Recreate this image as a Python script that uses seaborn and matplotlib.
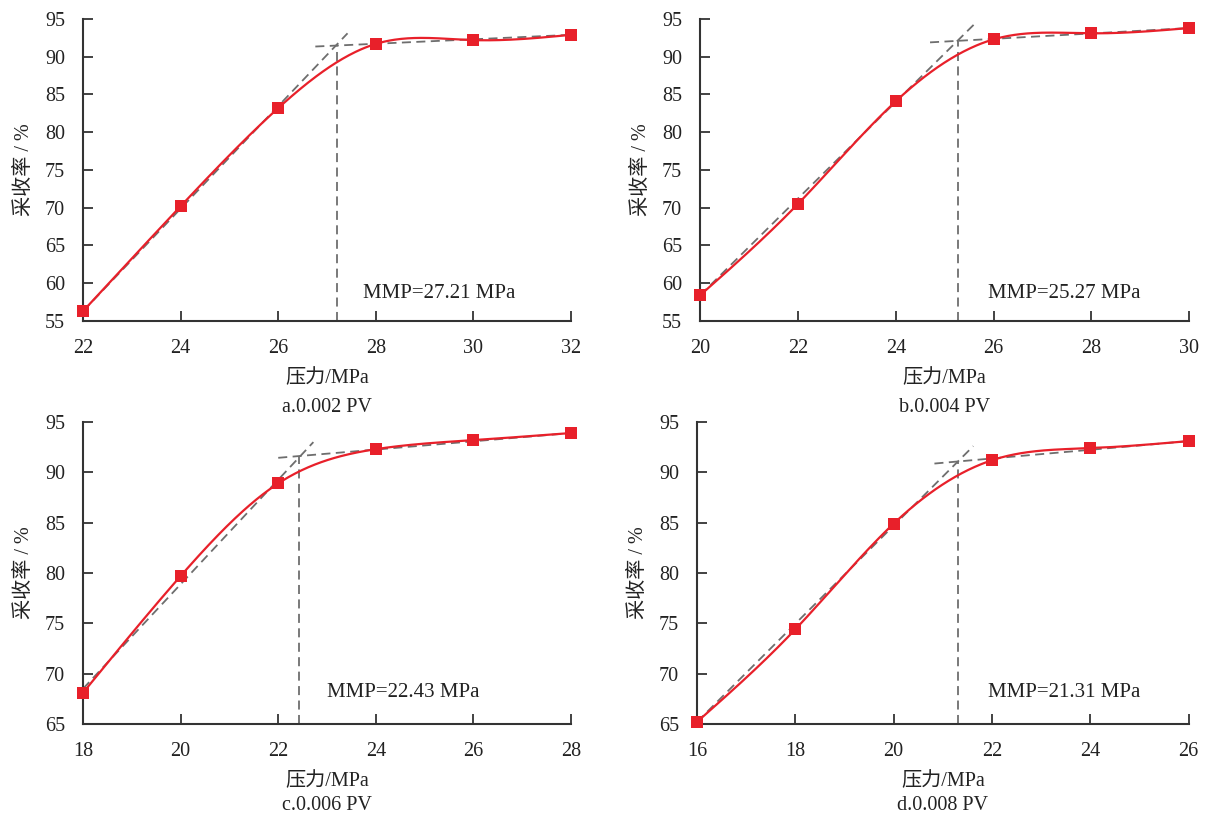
import numpy as np
import pandas as pd
import matplotlib
matplotlib.use('Agg')
import matplotlib.pyplot as plt
import seaborn as sns

sns.set_style('ticks')
plt.rcParams['font.family'] = ['Liberation Serif', 'Noto Sans CJK SC']
plt.rcParams['axes.unicode_minus'] = False

## data
press_a = [22, 24, 26, 28, 30, 32]
rec_a = [56.3, 70.2, 83.2, 91.7, 92.2, 92.9]
press_b = [20, 22, 24, 26, 28, 30]
rec_b = [58.4, 70.5, 84.1, 92.3, 93.1, 93.8]
press_c = [18, 20, 22, 24, 26, 28]
rec_c = [68.1, 79.7, 88.9, 92.3, 93.2, 93.9]
press_d = [16, 18, 20, 22, 24, 26]
rec_d = [65.2, 74.4, 84.9, 91.2, 92.4, 93.1]

mmp = [27.21, 25.27, 22.43, 21.31]
captions = ['a.0.002 PV', 'b.0.004 PV', 'c.0.006 PV', 'd.0.008 PV']
ylims = [(55, 95), (55, 95), (65, 95), (65, 95)]

# tangent lines: (x0, y0, x1, y1)
rise_lines = [(22, 56.3, 27.42, 93.1), (20, 58.4, 25.65, 94.6),
              (18, 68.5, 22.72, 93.0), (16, 65.2, 21.62, 92.6)]
flat_lines = [(26.76, 91.35, 32, 92.9), (24.7, 91.9, 30, 93.8),
              (22.0, 91.44, 28, 93.9), (20.83, 90.87, 26, 93.1)]
# intersection heights for the vertical lines
cross_y = [91.45, 92.1, 91.6, 91.1]
# annotation positions
text_pos = [(27.74, 58.7), (25.89, 58.7), (23.0, 68.1), (21.91, 68.1)]


def natural_spline(x, y, n=300):
    x = np.asarray(x, float)
    y = np.asarray(y, float)
    k = len(x)
    h = np.diff(x)
    A = np.zeros((k, k))
    r = np.zeros(k)
    A[0, 0] = A[-1, -1] = 1
    for i in range(1, k - 1):
        A[i, i - 1] = h[i - 1]
        A[i, i] = 2 * (h[i - 1] + h[i])
        A[i, i + 1] = h[i]
        r[i] = 6 * ((y[i + 1] - y[i]) / h[i] - (y[i] - y[i - 1]) / h[i - 1])
    m = np.linalg.solve(A, r)
    xs = np.linspace(x[0], x[-1], n)
    idx = np.clip(np.searchsorted(x, xs) - 1, 0, k - 2)
    x0, x1 = x[idx], x[idx + 1]
    hh = x1 - x0
    t0, t1 = x1 - xs, xs - x0
    ys = (m[idx] * t0 ** 3 + m[idx + 1] * t1 ** 3) / (6 * hh) \
        + (y[idx] / hh - m[idx] * hh / 6) * t0 + (y[idx + 1] / hh - m[idx + 1] * hh / 6) * t1
    return xs, ys


fig = plt.figure(figsize=(12.05, 8.14), dpi=100)
positions = [[0.0689, 0.6057, 0.405, 0.371], [0.581, 0.6057, 0.406, 0.371],
             [0.0689, 0.1106, 0.405, 0.371], [0.5784, 0.1106, 0.408, 0.371]]
caption_y = [-0.285, -0.285, -0.27, -0.27]

all_press = [press_a, press_b, press_c, press_d]
all_rec = [rec_a, rec_b, rec_c, rec_d]
red = '#e8202a'
grey = '#6e6e6e'
txt = '#222222'
fs = 14.5

for i in range(4):
    ax = fig.add_axes(positions[i])
    xs, ys = natural_spline(all_press[i], all_rec[i])
    curve = pd.DataFrame({'x': xs, 'y': ys})
    pts = pd.DataFrame({'x': all_press[i], 'y': all_rec[i]})

    r = rise_lines[i]
    f = flat_lines[i]
    ax.plot([r[0], r[2]], [r[1], r[3]], color=grey, ls=(0, (5, 3)), lw=1.3, zorder=2)
    ax.plot([f[0], f[2]], [f[1], f[3]], color=grey, ls=(0, (5, 3)), lw=1.3, zorder=2)
    ax.plot([mmp[i], mmp[i]], [ylims[i][0], cross_y[i]], color=grey, ls=(0, (5, 3)), lw=1.3, zorder=2)

    sns.lineplot(data=curve, x='x', y='y', ax=ax, color=red, lw=1.6, zorder=3)
    sns.scatterplot(data=pts, x='x', y='y', ax=ax, marker='s', color=red, s=80,
                    edgecolor=red, linewidth=0, zorder=4, clip_on=False)

    ax.text(text_pos[i][0], text_pos[i][1], 'MMP=%.2f MPa' % mmp[i], fontsize=fs + 0.5,
            va='center', ha='left', color=txt)

    ax.set_xlim(all_press[i][0], all_press[i][-1])
    ax.set_ylim(*ylims[i])
    ax.set_xticks(all_press[i])
    ax.set_yticks(np.arange(ylims[i][0], 96, 5))
    ax.set_xlabel('压力/MPa', fontsize=fs, labelpad=8, color=txt)
    ax.set_ylabel('采收率 / %', fontsize=fs, labelpad=8, color=txt)
    ax.text(0.5, caption_y[i], captions[i], transform=ax.transAxes, ha='center', va='center',
            fontsize=fs, color=txt)

    ax.tick_params(axis='both', direction='in', length=7, width=1.2, labelsize=fs,
                   pad=13, colors=txt)
    for s in ['top', 'right']:
        ax.spines[s].set_visible(False)
    for s in ['left', 'bottom']:
        ax.spines[s].set_linewidth(1.5)
        ax.spines[s].set_color('#333333')

fig.savefig('out.png', dpi=100)
